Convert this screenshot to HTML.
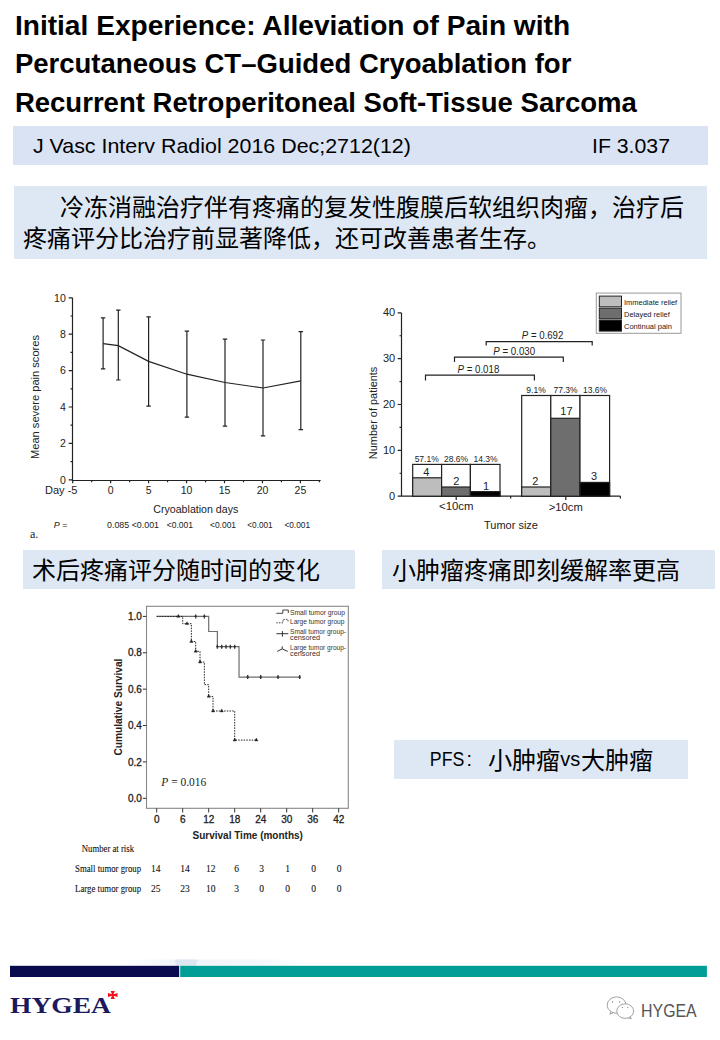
<!DOCTYPE html>
<html lang="zh-CN"><head><meta charset="utf-8"><style>
html,body{margin:0;padding:0;background:#fff;}
body{width:720px;height:1040px;overflow:hidden;position:relative;font-family:"Liberation Sans",sans-serif;}
svg{position:absolute;left:0;top:0;}
</style></head><body>
<svg width="720" height="1040" viewBox="0 0 720 1040" font-family="Liberation Sans, sans-serif">

<g font-weight="bold" font-size="28.4" fill="#000">
<text x="14.9" y="35.2" textLength="555.2" lengthAdjust="spacingAndGlyphs">Initial Experience: Alleviation of Pain with</text>
<text x="14.9" y="73.2" textLength="556.5" lengthAdjust="spacingAndGlyphs">Percutaneous CT–Guided Cryoablation for</text>
<text x="14.9" y="112.1" textLength="621.9" lengthAdjust="spacingAndGlyphs">Recurrent Retroperitoneal Soft-Tissue Sarcoma</text>
</g>
<rect x="13" y="126" width="695" height="39" fill="#DAE3F3"/>
<g font-size="21" fill="#000">
<text x="32.9" y="152.5" textLength="378" lengthAdjust="spacingAndGlyphs">J Vasc Interv Radiol 2016 Dec;2712(12)</text>
<text x="592" y="152.5" textLength="78" lengthAdjust="spacingAndGlyphs">IF 3.037</text>
</g>
<rect x="14" y="186" width="693" height="73" fill="#DEE8F4"/>
<g font-size="24" fill="#000" font-weight="200">
<text x="60" y="216">冷冻消融治疗伴有疼痛的复发性腹膜后软组织肉瘤，治疗后</text>
<text x="23" y="247">疼痛评分比治疗前显著降低，还可改善患者生存。</text>
</g>
<rect x="23" y="550" width="332" height="39" fill="#DEE8F4"/>
<rect x="382" y="550" width="333" height="39" fill="#DEE8F4"/>
<rect x="394" y="740" width="294" height="39" fill="#DEE8F4"/>
<g font-size="24" fill="#000" font-weight="200">
<text x="32" y="578.7">术后疼痛评分随时间的变化</text>
<text x="392" y="578.7">小肿瘤疼痛即刻缓解率更高</text>
</g>
<text x="429.8" y="766.3" font-size="19.7" textLength="34.5" lengthAdjust="spacingAndGlyphs">PFS</text><text x="466.6" y="766.3" font-size="19.7">:</text>
<g font-size="24.2" font-weight="200">
<text x="488" y="768.5">小肿瘤</text>
<text x="581" y="768.5">大肿瘤</text>
</g>
<text x="560.3" y="766.3" font-size="19.7" textLength="20" lengthAdjust="spacingAndGlyphs">vs</text>
<g stroke="#222" stroke-width="1.2" fill="none">
<path d="M72.5 297.8V480.5H320.7M68.7 479.8H72.5M70.5 461.6H72.5M68.7 443.4H72.5M70.5 425.2H72.5M68.7 407H72.5M70.5 388.8H72.5M68.7 370.6H72.5M70.5 352.4H72.5M68.7 334.2H72.5M70.5 316H72.5M68.7 297.8H72.5M72.7 480.5V483.3M91.68 480.5V482.3M110.65 480.5V483.3M129.62 480.5V482.3M148.6 480.5V483.3M167.57 480.5V482.3M186.55 480.5V483.3M205.52 480.5V482.3M224.5 480.5V483.3M243.48 480.5V482.3M262.45 480.5V483.3M281.43 480.5V482.3M300.4 480.5V483.3M319.38 480.5V482.3"/>
<path d="M103.1 317.8V368.9M100.9 317.8H105.3M100.9 368.9H105.3M118.3 310.1V380M116.1 310.1H120.5M116.1 380H120.5M148.6 316.9V406.1M146.4 316.9H150.8M146.4 406.1H150.8M186.9 331.1V417.2M184.7 331.1H189.1M184.7 417.2H189.1M225 339.2V426.1M222.8 339.2H227.2M222.8 426.1H227.2M263 340V435.8M260.8 340H265.2M260.8 435.8H265.2M300.8 331.7V429.7M298.6 331.7H303M298.6 429.7H303"/>
<polyline points="103.1,343.7 118.3,345.6 148.6,361.4 186.9,374.2 225,382.5 263,388 300.8,380.8"/>
</g>
<g font-size="10.5" fill="#222" text-anchor="end">
<text x="65.8" y="483.6">0</text>
<text x="65.8" y="447.2">2</text>
<text x="65.8" y="410.8">4</text>
<text x="65.8" y="374.4">6</text>
<text x="65.8" y="338">8</text>
<text x="65.8" y="301.6">10</text>
</g>
<g font-size="10.5" fill="#222" text-anchor="middle">
<text x="110.7" y="494.4">0</text>
<text x="148.65" y="494.4">5</text>
<text x="186.6" y="494.4">10</text>
<text x="224.55" y="494.4">15</text>
<text x="262.5" y="494.4">20</text>
<text x="300.45" y="494.4">25</text>
</g>
<text x="45" y="494.4" font-size="10.5" fill="#222" textLength="32.5" lengthAdjust="spacingAndGlyphs">Day -5</text>
<text x="153.3" y="512.9" font-size="10.5" fill="#222" textLength="85" lengthAdjust="spacingAndGlyphs">Cryoablation days</text>
<text x="35.5" y="397" font-size="10.8" fill="#222" text-anchor="middle" transform="rotate(-90 35.5 397)" dy="3.6" textLength="124" lengthAdjust="spacingAndGlyphs">Mean severe pain scores</text>
<g font-size="9" fill="#222">
<text x="53.8" y="528.4"><tspan font-style="italic">P</tspan> =</text>
<text x="107" y="528.4" textLength="52" lengthAdjust="spacingAndGlyphs">0.085 &lt;0.001</text>
<text x="166.7" y="528.4" textLength="26.3" lengthAdjust="spacingAndGlyphs">&lt;0.001</text>
<text x="210" y="528.4" textLength="26" lengthAdjust="spacingAndGlyphs">&lt;0.001</text>
<text x="247.3" y="528.4" textLength="25.4" lengthAdjust="spacingAndGlyphs">&lt;0.001</text>
<text x="284.4" y="528.4" textLength="25.6" lengthAdjust="spacingAndGlyphs">&lt;0.001</text>
</g>
<text x="30" y="537.8" font-size="12" font-family="Liberation Serif, serif" fill="#222">a.</text>
<g stroke="#222" stroke-width="1.2" fill="none">
<path d="M401.5 313V496.2H620.4M397.7 496.2H401.5M399.5 473.27H401.5M397.7 450.35H401.5M399.5 427.42H401.5M397.7 404.5H401.5M399.5 381.57H401.5M397.7 358.65H401.5M399.5 335.73H401.5M397.7 312.8H401.5M456.2 496.2V500M565.8 496.2V500M510.7 496.2V498.5M620.4 496.2V498.5"/>
</g>
<g font-size="11" fill="#222" text-anchor="end">
<text x="395.2" y="499.8">0</text>
<text x="395.2" y="453.95">10</text>
<text x="395.2" y="408.1">20</text>
<text x="395.2" y="362.25">30</text>
<text x="395.2" y="316.4">40</text>
</g>
<rect x="412.7" y="464.4" width="28.9" height="31.8" fill="#fff" stroke="#222" stroke-width="1.2"/><rect x="412.7" y="477.8" width="28.9" height="18.4" fill="#BDBDBD" stroke="#222" stroke-width="1.2"/>
<rect x="441.6" y="464.4" width="28.8" height="31.8" fill="#fff" stroke="#222" stroke-width="1.2"/><rect x="441.6" y="487" width="28.8" height="9.2" fill="#6E6E6E" stroke="#222" stroke-width="1.2"/>
<rect x="470.4" y="464.4" width="29.6" height="31.8" fill="#fff" stroke="#222" stroke-width="1.2"/><rect x="470.4" y="491.6" width="29.6" height="4.6" fill="#000" stroke="#222" stroke-width="1.2"/>
<rect x="521.7" y="395.5" width="29.1" height="100.7" fill="#fff" stroke="#222" stroke-width="1.2"/><rect x="521.7" y="487" width="29.1" height="9.2" fill="#BDBDBD" stroke="#222" stroke-width="1.2"/>
<rect x="550.8" y="395.5" width="29.2" height="100.7" fill="#fff" stroke="#222" stroke-width="1.2"/><rect x="550.8" y="418.3" width="29.2" height="77.9" fill="#6E6E6E" stroke="#222" stroke-width="1.2"/>
<rect x="580" y="395.5" width="29.6" height="100.7" fill="#fff" stroke="#222" stroke-width="1.2"/><rect x="580" y="482.4" width="29.6" height="13.8" fill="#000" stroke="#222" stroke-width="1.2"/>
<g font-size="11" fill="#222" text-anchor="middle">
<text x="426.2" y="475.6">4</text>
<text x="456.2" y="485.1">2</text>
<text x="486" y="490">1</text>
<text x="535.3" y="484.7">2</text>
<text x="566.4" y="415.3">17</text>
<text x="594" y="479.8">3</text>
</g>
<g font-size="8.5" fill="#222" text-anchor="middle">
<text x="426.7" y="461.6">57.1%</text>
<text x="456" y="461.6">28.6%</text>
<text x="485.5" y="461.6">14.3%</text>
<text x="536" y="392.7">9.1%</text>
<text x="565.5" y="392.7">77.3%</text>
<text x="595" y="392.7">13.6%</text>
</g>
<text x="439" y="510.4" font-size="10" fill="#222" textLength="34.5" lengthAdjust="spacingAndGlyphs">&lt;10cm</text>
<text x="548.8" y="510.5" font-size="10" fill="#222" textLength="34" lengthAdjust="spacingAndGlyphs">&gt;10cm</text>
<text x="484" y="528.6" font-size="10" fill="#222" textLength="54" lengthAdjust="spacingAndGlyphs">Tumor size</text>
<text x="374" y="412.9" font-size="10.8" fill="#222" text-anchor="middle" transform="rotate(-90 374 412.9)" dy="3.2" textLength="92.5" lengthAdjust="spacingAndGlyphs">Number of patients</text>
<g stroke="#222" stroke-width="1.2" fill="none">
<path d="M425.5 380.4V375.2H534.4V380.4M454.5 362V357.1H563.3V362M486.2 345.6V341.6H592.2V345.6"/>
</g>
<g font-size="10" fill="#222">
<text x="457.5" y="372.7" textLength="41.8" lengthAdjust="spacingAndGlyphs"><tspan font-style="italic">P</tspan> = 0.018</text>
<text x="493.3" y="354.9" textLength="41.8" lengthAdjust="spacingAndGlyphs"><tspan font-style="italic">P</tspan> = 0.030</text>
<text x="521.8" y="338.9" textLength="41.5" lengthAdjust="spacingAndGlyphs"><tspan font-style="italic">P</tspan> = 0.692</text>
</g>
<rect x="596.3" y="293.1" width="84.7" height="40.2" fill="#fff" stroke="#999" stroke-width="1"/>
<rect x="599.3" y="296.1" width="22.2" height="10.7" fill="#BDBDBD" stroke="#222" stroke-width="1"/>
<rect x="599.3" y="308.2" width="22.2" height="10.55" fill="#6E6E6E" stroke="#222" stroke-width="1"/>
<rect x="599.3" y="320.1" width="22.2" height="11" fill="#000" stroke="#222" stroke-width="1"/>
<g font-size="7.5" fill="#222">
<text x="624" y="304.9" textLength="53.2" lengthAdjust="spacingAndGlyphs">Immediate relief</text>
<text x="624" y="316.7">Delayed relief</text>
<text x="624" y="328.75">Continual pain</text>
</g>
<rect x="146.5" y="606.3" width="201.8" height="202" fill="none" stroke="#888" stroke-width="1.1"/>
<path d="M142.8 798.3H146.5M142.8 761.92H146.5M142.8 725.54H146.5M142.8 689.16H146.5M142.8 652.78H146.5M142.8 616.4H146.5M156.7 808.3V812.5M182.7 808.3V812.5M208.7 808.3V812.5M234.7 808.3V812.5M260.7 808.3V812.5M286.7 808.3V812.5M312.7 808.3V812.5M338.7 808.3V812.5" stroke="#333" stroke-width="1" fill="none"/>
<g font-size="10" fill="#222" stroke="#222" stroke-width="0.3" text-anchor="end">
<text x="141.8" y="801.9">0.0</text>
<text x="141.8" y="765.52">0.2</text>
<text x="141.8" y="729.14">0.4</text>
<text x="141.8" y="692.76">0.6</text>
<text x="141.8" y="656.38">0.8</text>
<text x="141.8" y="620">1.0</text>
</g>
<g font-size="10" fill="#222" stroke="#222" stroke-width="0.3" text-anchor="middle">
<text x="156.7" y="823">0</text>
<text x="182.7" y="823">6</text>
<text x="208.7" y="823">12</text>
<text x="234.7" y="823">18</text>
<text x="260.7" y="823">24</text>
<text x="286.7" y="823">30</text>
<text x="312.7" y="823">36</text>
<text x="338.7" y="823">42</text>
</g>
<text x="192.5" y="839.2" font-size="11" font-weight="bold" fill="#222" textLength="110.4" lengthAdjust="spacingAndGlyphs">Survival Time (months)</text>
<text x="118.3" y="707.1" font-size="10.5" font-weight="bold" fill="#222" text-anchor="middle" transform="rotate(-90 118.3 707.1)" dy="3.6" textLength="97" lengthAdjust="spacingAndGlyphs">Cumulative Survival</text>
<text x="161.3" y="786.2" font-size="11.5" font-family="Liberation Serif, serif" fill="#222" textLength="45" lengthAdjust="spacingAndGlyphs"><tspan font-style="italic">P</tspan> = 0.016</text>
<polyline points="156.7,616.4 208.7,616.4 208.7,631.5 217.37,631.5 217.37,646.72 239.03,646.72 239.03,677.03 299.7,677.03" fill="none" stroke="#6E6E6E" stroke-width="1.2"/>
<path d="M195.7 614.4V618.4M194.5 616.4H196.9M204.37 614.4V618.4M203.17 616.4H205.57M217.37 644.72V648.72M216.17 646.72H218.57M221.7 644.72V648.72M220.5 646.72H222.9M226.03 644.72V648.72M224.83 646.72H227.23M230.37 644.72V648.72M229.17 646.72H231.57M234.7 644.72V648.72M233.5 646.72H235.9M247.7 675.03V679.03M246.5 677.03H248.9M260.7 675.03V679.03M259.5 677.03H261.9M278.03 675.03V679.03M276.83 677.03H279.23M299.7 675.03V679.03M298.5 677.03H300.9" stroke="#333" stroke-width="1.3" fill="none"/>
<polyline points="156.7,616.4 182.7,616.4 182.7,623.68 191.37,623.68 191.37,641.5 195.7,641.5 195.7,651.32 200.03,651.32 200.03,662.06 204.37,662.06 204.37,684.61 208.7,684.61 208.7,696.44 213.03,696.44 213.03,710.99 234.7,710.99 234.7,740.09 256.37,740.09" fill="none" stroke="#222" stroke-width="1" stroke-dasharray="1.5 1.2"/>
<path d="M176.77 617.3L178.37 614.4L179.97 617.3ZM185.43 624.58L187.03 621.68L188.63 624.58ZM189.77 642.4L191.37 639.5L192.97 642.4ZM194.1 652.22L195.7 649.32L197.3 652.22ZM198.43 662.96L200.03 660.06L201.63 662.96ZM207.1 697.34L208.7 694.44L210.3 697.34ZM211.43 711.89L213.03 708.99L214.63 711.89ZM220.1 711.89L221.7 708.99L223.3 711.89ZM233.1 740.99L234.7 738.09L236.3 740.99ZM254.77 740.99L256.37 738.09L257.97 740.99Z" stroke="#222" stroke-width="0.4" fill="#222"/>
<path d="M276.4 613.3H282.8V610H288.3V613" stroke="#444" stroke-width="1" fill="none"/>
<path d="M276.4 622.8H283V619.4H288V621.5" stroke="#444" stroke-width="1" fill="none" stroke-dasharray="1.4 1.2"/>
<path d="M276.4 633.7H288.3M282.4 631.1V636.7" stroke="#333" stroke-width="1" fill="none"/>
<path d="M277.2 651.4L282.2 648.9L287.8 651.4M282.2 648.9V646.3" stroke="#333" stroke-width="1" fill="none"/>
<g font-size="7.3" fill="#333">
<text x="290" y="614.8" textLength="55" lengthAdjust="spacingAndGlyphs">Small tumor group</text>
<text x="290" y="624.1" textLength="54.5" lengthAdjust="spacingAndGlyphs">Large tumor group</text>
<text x="290" y="634.1" textLength="56" lengthAdjust="spacingAndGlyphs">Small tumor group-</text>
<text x="290" y="640.3">censored</text>
<text x="290" y="650" textLength="56" lengthAdjust="spacingAndGlyphs">Large tumor group-</text>
<text x="290" y="656.1">censored</text>
</g>
<g font-size="9.5" font-family="Liberation Serif, serif" fill="#111" stroke="#111" stroke-width="0.1">
<text x="81.8" y="852.2" textLength="52.2" lengthAdjust="spacingAndGlyphs">Number at risk</text>
<text x="75.1" y="872.2" textLength="66" lengthAdjust="spacingAndGlyphs">Small tumor group</text>
<text x="75.1" y="892.2" textLength="66" lengthAdjust="spacingAndGlyphs">Large tumor group</text>
</g>
<g font-size="9.5" font-family="Liberation Serif, serif" fill="#111" stroke="#111" stroke-width="0.1" text-anchor="middle">
<text x="155.65" y="872.2">14</text>
<text x="184.9" y="872.2">14</text>
<text x="210.8" y="872.2">12</text>
<text x="236.7" y="872.2">6</text>
<text x="261.7" y="872.2">3</text>
<text x="287.5" y="872.2">1</text>
<text x="313.5" y="872.2">0</text>
<text x="339.2" y="872.2">0</text>
<text x="155.65" y="892.2">25</text>
<text x="184.9" y="892.2">23</text>
<text x="210.8" y="892.2">10</text>
<text x="236.7" y="892.2">3</text>
<text x="261.7" y="892.2">0</text>
<text x="287.5" y="892.2">0</text>
<text x="313.5" y="892.2">0</text>
<text x="339.2" y="892.2">0</text>
</g>
<defs><linearGradient id="fb" x1="0" x2="1" y1="0" y2="0"><stop offset="0" stop-color="#fff"/><stop offset="0.3" stop-color="#F0F4F9"/><stop offset="0.7" stop-color="#F3F6FA"/><stop offset="1" stop-color="#fff"/></linearGradient></defs>
<rect x="120" y="959.5" width="190" height="6" fill="url(#fb)"/><polygon points="175,959.5 198,959.5 196,965.8 176,965.8" fill="#DDE7F1"/>
<rect x="10" y="965.8" width="169.2" height="11.2" fill="#0A0A4E"/>
<rect x="180.2" y="965.8" width="526.7" height="11.2" fill="#009E94"/>
<text x="10" y="1012.6" font-size="23.5" font-weight="bold" font-family="Liberation Serif, serif" fill="#1A1A5C" textLength="101" lengthAdjust="spacingAndGlyphs">HYGEA</text>
<polygon points="110.65,991.10 114.85,991.10 113.55,994.20 117.50,992.90 117.50,997.10 113.55,995.80 114.85,998.90 110.65,998.90 111.95,995.80 108.00,997.10 108.00,992.90 111.95,994.20" fill="#F0101A"/>
<g stroke="#8a8a8a" stroke-width="0.8" fill="#fff">
<path d="M611 1011.6 L609.8 1014.2 L613.6 1012.6"/>
<ellipse cx="616.6" cy="1005.1" rx="9.4" ry="8.2"/>
<path d="M630.2 1016 L631.2 1018.8 L627.8 1017.6"/>
<ellipse cx="625.2" cy="1011.1" rx="8.4" ry="7.3"/>
</g>
<g fill="#777"><circle cx="612.6" cy="1001.9" r="0.7"/><circle cx="619.6" cy="1001.9" r="0.7"/><circle cx="622.4" cy="1007.6" r="0.6"/><circle cx="627.8" cy="1007.6" r="0.6"/></g>
<text x="641.1" y="1016.7" font-size="17.5" fill="#555" textLength="55.6" lengthAdjust="spacingAndGlyphs">HYGEA</text>
</svg></body></html>
